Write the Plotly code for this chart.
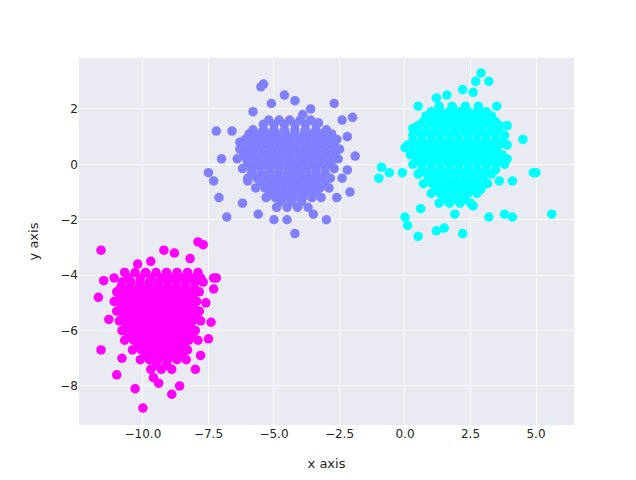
import plotly.graph_objects as go

# Cluster outer points (x, y)
cyan_outer = [(-0.9,-0.1),(-1.0,-0.5),(-0.6,-0.3),(0.0,-1.9),(0.1,-2.2),(0.5,-2.6),(1.2,-2.4),(1.5,-2.3),(1.9,-1.8),(2.2,-2.5),(2.6,-1.5),(3.2,-1.9),(3.8,-1.8),(4.1,-1.9),(5.6,-1.8),(4.9,-0.3),(5.0,-0.3),(4.5,0.9),(4.1,-0.6),(3.9,0.2),(2.9,3.3),(3.2,3.0),(2.7,3.0),(2.6,2.6),(2.2,2.7),(1.6,2.5),(1.2,2.4),(0.5,2.1),(0.3,1.3),(0.0,0.6),(-0.1,-0.3),(3.5,2.1),(3.9,1.4),(3.6,-0.6),(0.6,-1.6)]
cyan_rows = [(2.1,[1.3,1.8,2.3,2.8]),(1.75,[0.8,1.15,1.5,1.85,2.2,2.55,2.9,3.3]),(1.4,[0.5,0.85,1.2,1.55,1.9,2.25,2.6,2.95,3.3,3.6]),(1.05,[0.3,0.65,1.0,1.35,1.7,2.05,2.4,2.75,3.1,3.45,3.8]),(0.7,[0.1,0.45,0.8,1.15,1.5,1.85,2.2,2.55,2.9,3.25,3.6,3.9]),(0.35,[0.2,0.55,0.9,1.25,1.6,1.95,2.3,2.65,3.0,3.35,3.7]),(0.0,[0.3,0.65,1.0,1.35,1.7,2.05,2.4,2.75,3.1,3.45,3.8]),(-0.35,[0.5,0.85,1.2,1.55,1.9,2.25,2.6,2.95,3.3]),(-0.7,[0.7,1.05,1.4,1.75,2.1,2.45,2.8,3.15]),(-1.05,[1.0,1.35,1.7,2.05,2.4,2.75]),(-1.4,[1.3,1.7,2.1,2.5])]
cyan_fill = [(1.9,[1.0,1.35,1.7,2.05,2.4,2.75,3.1]),(1.55,[0.7,1.05,1.4,1.75,2.1,2.45,2.8,3.15,3.45]),(1.2,[0.45,0.8,1.15,1.5,1.85,2.2,2.55,2.9,3.25,3.6]),(0.85,[0.3,0.65,1.0,1.35,1.7,2.05,2.4,2.75,3.1,3.45,3.75]),(0.5,[0.35,0.7,1.05,1.4,1.75,2.1,2.45,2.8,3.15,3.5]),(0.15,[0.45,0.8,1.15,1.5,1.85,2.2,2.55,2.9,3.25,3.6]),(-0.2,[0.65,1.0,1.35,1.7,2.05,2.4,2.75,3.1,3.45]),(-0.55,[0.9,1.25,1.6,1.95,2.3,2.65,3.0]),(-0.9,[1.2,1.55,1.9,2.25,2.6,2.9]),(-1.25,[1.5,1.9,2.3])]

lav_outer = [(-7.0,0.2),(-7.3,-0.6),(-7.5,-0.3),(-7.1,-1.2),(-6.8,-1.9),(-6.6,1.2),(-7.2,1.2),(-5.4,2.9),(-5.5,2.8),(-5.1,2.2),(-4.6,2.5),(-4.2,2.3),(-3.6,2.0),(-3.3,1.5),(-2.7,2.2),(-2.4,1.6),(-2.2,1.0),(-1.9,0.3),(-2.2,-0.2),(-2.4,-0.5),(-2.1,-1.0),(-2.6,-1.2),(-3.0,-2.0),(-3.5,-1.8),(-4.2,-2.5),(-4.5,-2.0),(-5.0,-2.0),(-5.6,-1.8),(-6.2,-1.4),(-6.0,-0.6),(-2.0,1.7),(-6.3,0.8),(-5.8,1.9),(-3.9,1.8)]
lav_rows = [(1.6,[-5.2,-4.8,-4.4,-4.0,-3.6]),(1.25,[-5.8,-5.4,-5.0,-4.6,-4.2,-3.8,-3.4,-3.0]),(0.9,[-6.1,-5.75,-5.4,-5.05,-4.7,-4.35,-4.0,-3.65,-3.3,-2.95,-2.6]),(0.55,[-6.3,-5.95,-5.6,-5.25,-4.9,-4.55,-4.2,-3.85,-3.5,-3.15,-2.8,-2.5]),(0.2,[-6.4,-6.05,-5.7,-5.35,-5.0,-4.65,-4.3,-3.95,-3.6,-3.25,-2.9,-2.55]),(-0.15,[-6.2,-5.85,-5.5,-5.15,-4.8,-4.45,-4.1,-3.75,-3.4,-3.05,-2.7]),(-0.5,[-6.0,-5.65,-5.3,-4.95,-4.6,-4.25,-3.9,-3.55,-3.2,-2.85]),(-0.85,[-5.7,-5.35,-5.0,-4.65,-4.3,-3.95,-3.6,-3.25,-2.9]),(-1.2,[-5.3,-4.95,-4.6,-4.25,-3.9,-3.55,-3.2]),(-1.55,[-4.9,-4.5,-4.1,-3.7])]
lav_fill = [(1.45,[-5.4,-5.0,-4.6,-4.2,-3.8,-3.4]),(1.1,[-5.95,-5.6,-5.25,-4.9,-4.55,-4.2,-3.85,-3.5,-3.15,-2.8]),(0.75,[-6.2,-5.85,-5.5,-5.15,-4.8,-4.45,-4.1,-3.75,-3.4,-3.05,-2.7]),(0.4,[-6.15,-5.8,-5.45,-5.1,-4.75,-4.4,-4.05,-3.7,-3.35,-3.0,-2.7]),(0.05,[-6.0,-5.65,-5.3,-4.95,-4.6,-4.25,-3.9,-3.55,-3.2,-2.85]),(-0.3,[-5.85,-5.5,-5.15,-4.8,-4.45,-4.1,-3.75,-3.4,-3.05]),(-0.65,[-5.5,-5.15,-4.8,-4.45,-4.1,-3.75,-3.4,-3.05]),(-1.0,[-5.15,-4.8,-4.45,-4.1,-3.75,-3.4]),(-1.35,[-4.75,-4.35,-3.95])]

mag_outer = [(-11.6,-3.1),(-11.7,-4.8),(-11.5,-4.2),(-11.6,-6.7),(-11.0,-7.6),(-10.8,-7.0),(-10.3,-8.1),(-10.0,-8.8),(-9.6,-7.7),(-9.4,-7.9),(-8.9,-8.3),(-8.6,-8.0),(-8.0,-7.4),(-7.5,-6.3),(-7.4,-5.7),(-7.3,-4.5),(-7.2,-4.1),(-7.3,-4.1),(-7.9,-2.8),(-8.2,-3.4),(-8.8,-3.2),(-9.2,-3.1),(-9.7,-3.5),(-10.2,-3.6),(-10.7,-3.9),(-11.1,-4.1),(-7.6,-5.0),(-7.8,-6.9),(-11.3,-5.6),(-7.7,-2.9)]
mag_rows = [(-3.9,[-10.3,-9.9,-9.5,-9.1,-8.7,-8.3,-7.9]),(-4.25,[-10.8,-10.45,-10.1,-9.75,-9.4,-9.05,-8.7,-8.35,-8.0,-7.7]),(-4.6,[-11.0,-10.65,-10.3,-9.95,-9.6,-9.25,-8.9,-8.55,-8.2,-7.85]),(-4.95,[-11.1,-10.75,-10.4,-10.05,-9.7,-9.35,-9.0,-8.65,-8.3,-7.95]),(-5.3,[-11.0,-10.65,-10.3,-9.95,-9.6,-9.25,-8.9,-8.55,-8.2,-7.85]),(-5.65,[-10.9,-10.55,-10.2,-9.85,-9.5,-9.15,-8.8,-8.45,-8.1,-7.8]),(-6.0,[-10.8,-10.45,-10.1,-9.75,-9.4,-9.05,-8.7,-8.35,-8.0]),(-6.35,[-10.7,-10.35,-10.0,-9.65,-9.3,-8.95,-8.6,-8.25,-7.9]),(-6.7,[-10.4,-10.05,-9.7,-9.35,-9.0,-8.65,-8.3]),(-7.05,[-10.1,-9.75,-9.4,-9.05,-8.7,-8.35]),(-7.4,[-9.7,-9.3,-8.9])]
mag_fill = [(-4.1,[-10.55,-10.1,-9.7,-9.3,-8.9,-8.5,-8.1,-7.8]),(-4.45,[-10.85,-10.5,-10.15,-9.8,-9.45,-9.1,-8.75,-8.4,-8.05]),(-4.8,[-10.9,-10.55,-10.2,-9.85,-9.5,-9.15,-8.8,-8.45,-8.1]),(-5.15,[-10.85,-10.5,-10.15,-9.8,-9.45,-9.1,-8.75,-8.4,-8.05]),(-5.5,[-10.75,-10.4,-10.05,-9.7,-9.35,-9.0,-8.65,-8.3,-7.95]),(-5.85,[-10.65,-10.3,-9.95,-9.6,-9.25,-8.9,-8.55,-8.2]),(-6.2,[-10.55,-10.2,-9.85,-9.5,-9.15,-8.8,-8.45,-8.1]),(-6.55,[-10.2,-9.85,-9.5,-9.15,-8.8,-8.45]),(-6.9,[-9.9,-9.55,-9.2,-8.85,-8.5]),(-7.25,[-9.5,-9.1])]

def collect(outer, *row_sets):
    xs = [p[0] for p in outer]; ys = [p[1] for p in outer]
    for rows in row_sets:
        for y, row in rows:
            for x in row:
                xs.append(x); ys.append(y)
    return xs, ys

fig = go.Figure()
for outer, rows, fill, color in [(mag_outer, mag_rows, mag_fill, "#FF00FF"), (lav_outer, lav_rows, lav_fill, "#8080FF"), (cyan_outer, cyan_rows, cyan_fill, "#00FFFF")]:
    xs, ys = collect(outer, rows, fill)
    fig.add_trace(go.Scatter(x=xs, y=ys, mode="markers", marker=dict(color=color, size=9.5, line=dict(width=0)), showlegend=False))

ax = dict(showgrid=True, gridcolor="white", gridwidth=1.3, zeroline=False, showline=False, ticks="",
          automargin=False, tickfont=dict(family="DejaVu Sans", size=12, color="#262626"))
fig.update_layout(
    width=636, height=480, margin=dict(l=71, r=70, t=50, b=63),
    paper_bgcolor="white", plot_bgcolor="#EAEAF2",
    xaxis=dict(ax, range=[-12.44, 6.45], tickvals=[-10, -7.5, -5, -2.5, 0, 2.5, 5],
               ticktext=["−10.0", "−7.5", "−5.0", "−2.5", "0.0", "2.5", "5.0"],
               title=dict(text="x axis", font=dict(family="DejaVu Sans", size=13, color="#262626"), standoff=18)),
    yaxis=dict(ax, range=[-9.41, 3.84], tickvals=[-8, -6, -4, -2, 0, 2],
               ticktext=["−8", "−6", "−4", "−2", "0", "2"],
               title=dict(text="y axis", font=dict(family="DejaVu Sans", size=13, color="#262626"), standoff=18)),
)
fig.write_html("out.html")
